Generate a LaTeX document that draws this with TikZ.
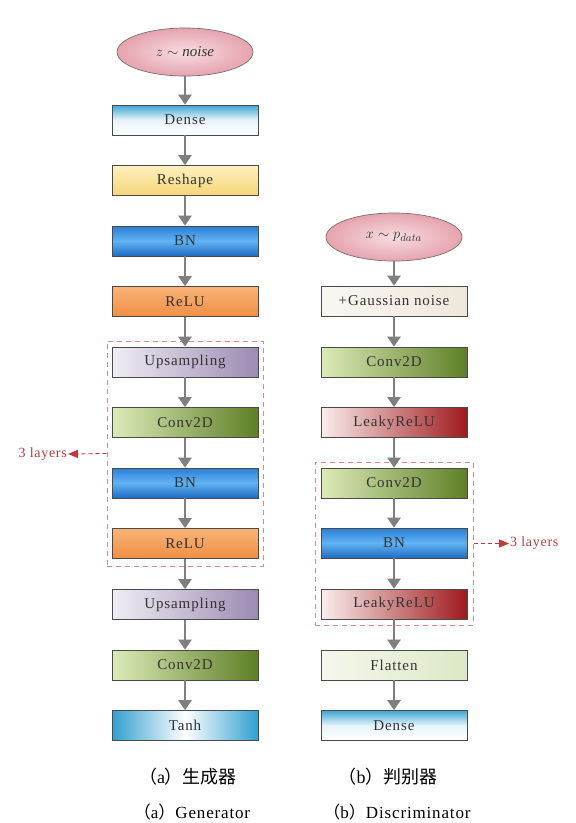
\documentclass[tikz,border=0pt]{standalone}
\usepackage{fontspec}
\setmainfont{Liberation Serif}
\newfontfamily\cjk{Noto Sans CJK SC}
\usetikzlibrary{arrows.meta,shapes.geometric}
\definecolor{boxline}{HTML}{4A4A4A}
\definecolor{flowgray}{HTML}{7F7F7F}
\definecolor{redlab}{HTML}{C0393B}
\definecolor{dashred}{HTML}{D98A86}
\definecolor{denseC}{HTML}{3DA5D3}
\definecolor{reshT}{HTML}{FDF0C0}
\definecolor{reshB}{HTML}{F6D577}
\definecolor{bnT}{HTML}{2A7ED6}
\definecolor{bnM}{HTML}{62B3F2}
\definecolor{bnB}{HTML}{1E6CC4}
\definecolor{reluT}{HTML}{F8B478}
\definecolor{reluB}{HTML}{F08F45}
\definecolor{upL}{HTML}{F0EDF4}
\definecolor{upR}{HTML}{9C8BB2}
\definecolor{convL}{HTML}{DCEBB8}
\definecolor{convR}{HTML}{5E7F26}
\definecolor{tanhC}{HTML}{2FA0CF}
\definecolor{gnL}{HTML}{F9F7F3}
\definecolor{gnR}{HTML}{EFE7DA}
\definecolor{lrL}{HTML}{FBEDED}
\definecolor{lrR}{HTML}{9E1A1C}
\definecolor{flL}{HTML}{F5F8EC}
\definecolor{flR}{HTML}{DDE8C6}
\definecolor{ellIn}{HTML}{F7DDE1}
\definecolor{ellOut}{HTML}{E6A3AD}
\begin{document}
\begin{tikzpicture}[x=1pt,y=-1pt,
  layer/.style={draw=boxline, line width=0.7pt, minimum width=146pt, minimum height=30pt,
    inner sep=0pt, text=black!80,
    font=\fontsize{15}{15}\selectfont\addfontfeatures{LetterSpace=6}},
  inp/.style={ellipse, draw=black!55, line width=0.7pt, minimum width=136pt, minimum height=48pt,
    inner color=ellIn, outer color=ellOut, text=black!80,
    font=\fontsize{15}{15}\selectfont},
  flow/.style={draw=flowgray, line width=2.4pt, -{Triangle[width=13pt,length=10pt]}},
  grp/.style={draw=dashred, line width=1pt, dash pattern=on 5pt off 4pt, inner sep=0pt},
  reparrow/.style={draw=redlab, line width=0.9pt, dash pattern=on 4pt off 3pt,
    -{Triangle[width=8pt,length=10pt]}},
  replab/.style={text=redlab, inner sep=1pt, font=\fontsize{14}{14}\selectfont\addfontfeatures{LetterSpace=5}},
  captext/.style={inner sep=0pt, font=\fontsize{17}{17}\selectfont\addfontfeatures{LetterSpace=5}},
  capcn/.style={inner sep=0pt, font=\fontsize{18}{18}\selectfont},
  dense/.style={layer, top color=denseC, bottom color=white, middle color=denseC!12},
  reshape/.style={layer, top color=reshT, bottom color=reshB},
  bn/.style={layer, top color=bnT, bottom color=bnB, middle color=bnM},
  relu/.style={layer, top color=reluT, bottom color=reluB},
  upsamp/.style={layer, left color=upL, right color=upR},
  conv/.style={layer, left color=convL, right color=convR},
  tanhbox/.style={layer, left color=tanhC, right color=tanhC, middle color=white},
  gauss/.style={layer, left color=gnL, right color=gnR},
  leaky/.style={layer, left color=lrL, right color=lrR},
  flat/.style={layer, left color=flL, right color=flR}
]
\useasboundingbox (0,0) rectangle (576,823);
\fill[white] (0,0) rectangle (576,823);

% repeat groups
\node[grp, minimum width=156pt, minimum height=225pt] (g1) at (185,453.5) {};
\node[grp, minimum width=158pt, minimum height=163pt] (g2) at (394,543.5) {};

% generator
\node[inp] (zn) at (185,52) {$z\sim\mathit{noise}$};
\node[dense] (d1) at (185,120) {Dense};
\node[reshape] (rs) at (185,180.5) {Reshape};
\node[bn] (bn1) at (185,241) {BN};
\node[relu] (re1) at (185,301.5) {ReLU};
\node[upsamp] (up1) at (185,362) {Upsampling};
\node[conv] (cv1) at (185,422.5) {Conv2D};
\node[bn] (bn2) at (185,483) {BN};
\node[relu] (re2) at (185,543.5) {ReLU};
\node[upsamp] (up2) at (185,604.5) {Upsampling};
\node[conv] (cv2) at (185,665) {Conv2D};
\node[tanhbox] (th) at (185,725.5) {Tanh};

\foreach \a/\b in {zn/d1,d1/rs,rs/bn1,bn1/re1,re1/up1,up1/cv1,cv1/bn2,bn2/re2,re2/up2,up2/cv2,cv2/th}
  \draw[flow] (\a.south) -- (\b.north);

% discriminator
\node[inp] (xp) at (394,237) {$x\sim p_{data}$};
\node[gauss] (gn) at (394,301) {+Gaussian noise};
\node[conv] (cv3) at (394,362) {Conv2D};
\node[leaky] (lr1) at (394,422.5) {LeakyReLU};
\node[conv] (cv4) at (394,483) {Conv2D};
\node[bn] (bn3) at (394,543) {BN};
\node[leaky] (lr2) at (394,604) {LeakyReLU};
\node[flat] (fl) at (394,665) {Flatten};
\node[dense] (d2) at (394,725.5) {Dense};

\foreach \a/\b in {xp/gn,gn/cv3,cv3/lr1,lr1/cv4,cv4/bn3,bn3/lr2,lr2/fl,fl/d2}
  \draw[flow] (\a.south) -- (\b.north);

% repeat labels
\node[replab, anchor=east] (l1) at (68,454) {3 layers};
\node[replab, anchor=west] (l2) at (509,543.5) {3 layers};
\draw[reparrow] (g1.west) -- (l1.east);
\draw[reparrow] (g2.east) -- (l2.west);

% captions
\node[capcn] (ca) at (188,777) {{\cjk （}a{\cjk ）生成器}};
\node[capcn] (cb) at (388,777) {{\cjk （}b{\cjk ）判别器}};
\node[captext] (ea) at (192,812) {{\cjk （}a{\cjk ）}Generator};
\node[captext] (eb) at (397,812) {{\cjk （}b{\cjk ）}Discriminator};
\end{tikzpicture}
\end{document}
